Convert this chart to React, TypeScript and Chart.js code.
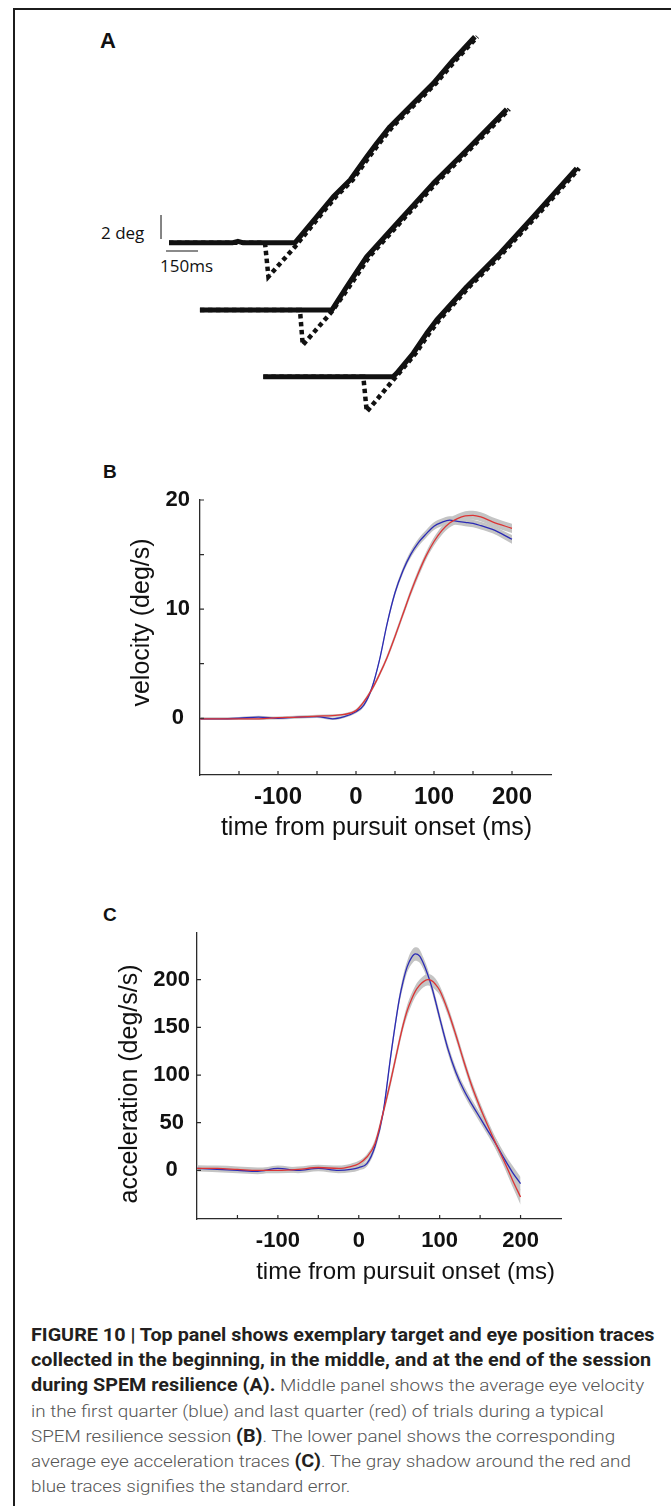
import React, { useEffect, useRef } from 'react';
import { Chart, registerables } from 'chart.js';

Chart.register(...registerables);

// ---------------- Panel A: position traces (time in ms, position in deg) ----------------
const eye1Time = [0, 300, 323, 345, 591, 692, 770, 849, 927, 974, 1036, 1114, 1239, 1333, 1434];
const eye1Pos = [0, 0, 0.12, 0, 0, 2.16, 3.83, 5.23, 7.17, 8.29, 9.67, 11.06, 13.28, 15.23, 17.17];
const target1Time = [0, 450, 466, 591, 704, 782, 861, 939, 986, 1048, 1126, 1251, 1345, 1446];
const target1Pos = [0, 0, -2.83, -0.33, 2.16, 3.83, 5.23, 7.17, 8.29, 9.67, 11.06, 13.28, 15.23, 17.17];

const eye2Time = [145, 763, 833, 880, 927, 1083, 1239, 1396, 1583];
const eye2Pos = [-5.61, -5.61, -3.67, -2.42, -1.16, 1.89, 4.95, 7.73, 11.12];
const target2Time = [145, 614, 627, 763, 845, 892, 939, 1095, 1251, 1408, 1595];
const target2Pos = [-5.61, -5.61, -8.53, -5.75, -3.67, -2.42, -1.16, 1.89, 4.95, 7.73, 11.12];

const eye3Time = [442, 1050, 1067, 1145, 1208, 1255, 1396, 1552, 1708, 1911];
const eye3Pos = [-11.17, -11.17, -10.88, -9.21, -7.55, -6.44, -3.67, -0.88, 2.16, 6.2];
const target3Time = [442, 911, 927, 1067, 1157, 1220, 1267, 1408, 1564, 1720, 1923];
const target3Pos = [-11.17, -11.17, -14.08, -11.11, -9.21, -7.55, -6.44, -3.67, -0.88, 2.16, 6.2];

// scale bars: 2 deg (vertical) and 150 ms (horizontal)
const degBarTime = [-37.5, -37.5];
const degBarPos = [0.31, 2.31];
const msBarTime = [-14, 136];
const msBarPos = [-0.69, -0.69];

// ---------------- Panel B: velocity (deg/s) ----------------
const timeB = [-200, -175, -150, -125, -100, -75, -50, -30, -15, 0, 10, 20, 30, 40, 50, 60, 70, 80, 90, 100, 110, 120, 130, 140, 150, 160, 175, 200];
const velBlue = [-0.05, -0.05, 0, 0.1, 0, 0.1, 0.15, -0.05, 0.15, 0.6, 1.2, 2.7, 5.3, 8.7, 11.5, 13.5, 15.0, 16.1, 16.9, 17.6, 17.95, 18.15, 18.05, 17.95, 17.85, 17.65, 17.3, 16.4];
const velRed = [-0.05, -0.05, -0.05, -0.05, 0.05, 0.1, 0.2, 0.25, 0.35, 0.7, 1.5, 2.6, 4.0, 5.6, 7.5, 9.5, 11.5, 13.3, 14.9, 16.2, 17.2, 17.9, 18.3, 18.55, 18.6, 18.45, 18.0, 17.4];
const velBlueSE = [0.12, 0.12, 0.12, 0.12, 0.12, 0.12, 0.12, 0.12, 0.12, 0.15, 0.18, 0.2, 0.22, 0.25, 0.28, 0.3, 0.32, 0.35, 0.35, 0.35, 0.35, 0.35, 0.35, 0.35, 0.35, 0.35, 0.35, 0.4];
const velRedSE = [0.12, 0.12, 0.12, 0.12, 0.12, 0.12, 0.12, 0.12, 0.12, 0.15, 0.18, 0.2, 0.22, 0.25, 0.28, 0.3, 0.32, 0.35, 0.35, 0.38, 0.4, 0.42, 0.42, 0.42, 0.42, 0.42, 0.42, 0.42];
const velTickValues = [0, 5, 10, 15, 20];
const velTickLabels = [0, 10, 20];

// ---------------- Panel C: acceleration (deg/s/s) ----------------
const timeC = [-200, -175, -150, -125, -100, -75, -50, -25, -10, 0, 10, 20, 30, 40, 50, 55, 60, 65, 70, 75, 80, 85, 90, 95, 100, 110, 120, 130, 140, 150, 160, 170, 180, 190, 200];
const accBlue = [2, 1, 0, -1, 2, 0, 2, 0, 1, 3, 7, 25, 60, 123, 179, 199, 214, 223, 227, 225, 217, 206, 193, 177, 160, 128, 103, 84, 69, 55, 41, 27, 12, -2, -14];
const accRed = [2, 2, 1, 0, 0, 1, 3, 2, 4, 7, 14, 28, 60, 96, 135, 153, 168, 179, 188, 194, 198, 200, 199, 195, 189, 168, 142, 114, 88, 66, 46, 27, 9, -10, -28];
const accBlueSE = [3, 3, 3, 3, 3, 3, 3, 3, 3, 3, 3, 4, 4, 5, 5, 6, 6, 7, 7, 7, 6, 6, 5, 5, 5, 5, 5, 5, 5, 5, 5, 6, 6, 7, 7];
const accRedSE = [3, 3, 3, 3, 3, 3, 3, 3, 3, 3, 3, 4, 4, 5, 5, 5, 6, 6, 6, 6, 6, 6, 6, 6, 5, 5, 5, 5, 5, 5, 5, 6, 6, 7, 8];
const accTickValues = [0, 50, 100, 150, 200];
const accTickLabels = [0, 50, 100, 150, 200];

// shared time axis ticks
const timeTickValues = [-150, -100, -50, 0, 50, 100, 150, 200];
const timeTickLabels = [-100, 0, 100, 200];

const SANS = '"Liberation Sans", Arial, Helvetica, sans-serif';
const AXIS_COLOR = '#2b2b2b';
const BLUE = '#2b2bb5';
const RED = '#dc3434';
const BAND = '#c4c4c4';

const xy = (xs: number[], ys: number[]) => xs.map((x, i) => ({ x, y: ys[i] }));

const inwardTicks = {
  id: 'inwardTicks',
  afterDraw(chart: any, _args: any, o: any) {
    if (!o || !o.xTicks) return;
    const { ctx, chartArea } = chart;
    const xs = chart.scales.x;
    const ys = chart.scales.y;
    ctx.save();
    ctx.strokeStyle = o.color;
    ctx.lineWidth = o.width;
    ctx.beginPath();
    o.xTicks.forEach((v: number) => {
      const px = xs.getPixelForValue(v);
      ctx.moveTo(px, chartArea.bottom);
      ctx.lineTo(px, chartArea.bottom - o.length);
    });
    o.yTicks.forEach((v: number) => {
      const py = ys.getPixelForValue(v);
      ctx.moveTo(chartArea.left, py);
      ctx.lineTo(chartArea.left + o.length, py);
    });
    ctx.stroke();
    ctx.restore();
  },
};

const axisTitles = {
  id: 'axisTitles',
  afterDraw(chart: any, _args: any, o: any) {
    if (!o || !o.xText) return;
    const { ctx, chartArea } = chart;
    ctx.save();
    ctx.fillStyle = o.color;
    ctx.textAlign = 'center';
    ctx.textBaseline = 'middle';
    ctx.font = o.xFont;
    ctx.fillText(o.xText, (chartArea.left + chartArea.right) / 2 + o.xDx, chartArea.bottom + o.xDy);
    ctx.font = o.yFont;
    ctx.translate(chartArea.left + o.yDx, (chartArea.top + chartArea.bottom) / 2 + o.yDy);
    ctx.rotate(-Math.PI / 2);
    ctx.fillText(o.yText, 0, 0);
    ctx.restore();
  },
};

function bandPair(time: number[], mean: number[], se: number[]) {
  return [
    {
      data: time.map((t, i) => ({ x: t, y: mean[i] - se[i] })),
      borderWidth: 0,
      pointRadius: 0,
      fill: false,
      cubicInterpolationMode: 'monotone',
      order: 5,
    },
    {
      data: time.map((t, i) => ({ x: t, y: mean[i] + se[i] })),
      borderWidth: 0,
      pointRadius: 0,
      fill: '-1',
      backgroundColor: BAND,
      cubicInterpolationMode: 'monotone',
      order: 5,
    },
  ];
}

function PanelA() {
  const ref = useRef<HTMLCanvasElement>(null);
  useEffect(() => {
    const eye = { borderColor: '#111', borderWidth: 5, pointRadius: 0, fill: false, borderJoinStyle: 'round', order: 0 };
    const tgt = { borderColor: '#111', borderWidth: 4.5, borderDash: [4.5, 3.5], pointRadius: 0, fill: false, order: 1 };
    const chart = new Chart(ref.current as HTMLCanvasElement, {
      type: 'line',
      data: {
        datasets: [
          { ...eye, data: xy(eye1Time, eye1Pos) },
          { ...eye, data: xy(eye2Time, eye2Pos) },
          { ...eye, data: xy(eye3Time, eye3Pos) },
          { ...tgt, data: xy(target1Time, target1Pos) },
          { ...tgt, data: xy(target2Time, target2Pos) },
          { ...tgt, data: xy(target3Time, target3Pos) },
          { borderColor: '#333', borderWidth: 1.2, pointRadius: 0, fill: false, data: xy(degBarTime, degBarPos), order: 2 },
          { borderColor: '#8a8a8a', borderWidth: 2, pointRadius: 0, fill: false, data: xy(msBarTime, msBarPos), order: 2 },
        ] as any,
      },
      options: {
        animation: false,
        responsive: false,
        maintainAspectRatio: false,
        layout: { padding: 0 },
        plugins: { legend: { display: false }, tooltip: { enabled: false } },
        scales: {
          x: { type: 'linear', display: false, min: -323.5, max: 2020.5 },
          y: { type: 'linear', display: false, min: -16.44, max: 18.56 },
        },
      } as any,
    });
    return () => chart.destroy();
  }, []);
  return (
    <canvas
      ref={ref}
      width={500}
      height={420}
      style={{ position: 'absolute', left: 100, top: 20, width: 500, height: 420 }}
    />
  );
}

type PanelProps = {
  left: number;
  top: number;
  width: number;
  height: number;
  time: number[];
  blue: number[];
  red: number[];
  blueSE: number[];
  redSE: number[];
  yMin: number;
  yMax: number;
  yTicks: number[];
  yLabels: number[];
  yAxisWidth: number;
  xAxisHeight: number;
  padTop: number;
  padRight: number;
  yTickFont: number;
  xTickFont: number;
  yTickPad: number;
  xTickPad: number;
  xTitle: string;
  yTitle: string;
  xTitleFont: number;
  yTitleFont: number;
  xDx: number;
  xDy: number;
  yDx: number;
  yDy: number;
};

function TracePanel(p: PanelProps) {
  const ref = useRef<HTMLCanvasElement>(null);
  useEffect(() => {
    const line = (data: number[], color: string, order: number) => ({
      data: xy(p.time, data),
      borderColor: color,
      borderWidth: 1.3,
      pointRadius: 0,
      fill: false,
      cubicInterpolationMode: 'monotone',
      order,
    });
    const chart = new Chart(ref.current as HTMLCanvasElement, {
      type: 'line',
      data: {
        datasets: [
          ...bandPair(p.time, p.blue, p.blueSE),
          ...bandPair(p.time, p.red, p.redSE),
          line(p.blue, BLUE, 1),
          line(p.red, RED, 0),
        ] as any,
      },
      options: {
        animation: false,
        responsive: false,
        maintainAspectRatio: false,
        layout: { padding: { left: 0, top: p.padTop, right: p.padRight, bottom: 0 } },
        plugins: {
          legend: { display: false },
          tooltip: { enabled: false },
          inwardTicks: { xTicks: timeTickValues, yTicks: p.yTicks, color: AXIS_COLOR, width: 1.2, length: 4 },
          axisTitles: {
            color: '#111',
            xText: p.xTitle,
            yText: p.yTitle,
            xFont: `${p.xTitleFont}px ${SANS}`,
            yFont: `${p.yTitleFont}px ${SANS}`,
            xDx: p.xDx,
            xDy: p.xDy,
            yDx: p.yDx,
            yDy: p.yDy,
          },
        },
        scales: {
          x: {
            type: 'linear',
            min: -200,
            max: 250,
            afterBuildTicks: (s: any) => {
              s.ticks = timeTickValues.map((v) => ({ value: v }));
            },
            afterFit: (s: any) => {
              s.height = p.xAxisHeight;
            },
            grid: { display: false, drawTicks: false },
            border: { display: true, color: AXIS_COLOR, width: 1.3 },
            ticks: {
              autoSkip: false,
              maxRotation: 0,
              padding: p.xTickPad,
              color: '#111',
              font: { family: SANS, size: p.xTickFont, weight: 'bold' },
              callback: (v: number) => (timeTickLabels.includes(v) ? String(v) : ''),
            },
          },
          y: {
            type: 'linear',
            min: p.yMin,
            max: p.yMax,
            afterBuildTicks: (s: any) => {
              s.ticks = p.yTicks.map((v) => ({ value: v }));
            },
            afterFit: (s: any) => {
              s.width = p.yAxisWidth;
            },
            grid: { display: false, drawTicks: false },
            border: { display: true, color: AXIS_COLOR, width: 1.3 },
            ticks: {
              autoSkip: false,
              crossAlign: 'center',
              padding: p.yTickPad,
              color: '#111',
              font: { family: SANS, size: p.yTickFont, weight: 'bold' },
              callback: (v: number) => (p.yLabels.includes(v) ? String(v) : ''),
            },
          },
        },
      } as any,
      plugins: [inwardTicks, axisTitles] as any,
    });
    return () => chart.destroy();
  }, []);
  return (
    <canvas
      ref={ref}
      width={p.width}
      height={p.height}
      style={{ position: 'absolute', left: p.left, top: p.top, width: p.width, height: p.height }}
    />
  );
}

const Bold = ({ children }: { children: React.ReactNode }) => (
  <span style={{ fontWeight: 700, fontSize: 17.5, color: '#231f20' }}>{children}</span>
);

export default function App() {
  const panelLabel = (text: string, left: number, top: number, size: number) => (
    <div
      style={{
        position: 'absolute',
        left,
        top,
        fontFamily: SANS,
        fontWeight: 700,
        fontSize: size,
        lineHeight: `${size}px`,
        color: '#111',
      }}
    >
      {text}
    </div>
  );
  const scaleText = (text: string, left: number, top: number) => (
    <div
      style={{
        position: 'absolute',
        left,
        top,
        fontFamily: '"Open Sans", sans-serif',
        fontSize: 17,
        lineHeight: '17px',
        color: '#111',
        whiteSpace: 'nowrap',
      }}
    >
      {text}
    </div>
  );
  return (
    <div
      style={{
        position: 'absolute',
        left: 0,
        top: 0,
        width: 671,
        height: 1506,
        overflow: 'hidden',
        background: '#fff',
      }}
    >
      <div
        style={{
          position: 'absolute',
          left: 13,
          top: 8,
          width: 720,
          height: 1600,
          borderTop: '2px solid #1c1c1c',
          borderLeft: '2px solid #1c1c1c',
          boxSizing: 'border-box',
        }}
      />
      {panelLabel('A', 100, 30, 22)}
      {panelLabel('B', 103, 462, 19)}
      {panelLabel('C', 103, 905, 19)}
      {scaleText('2 deg', 101, 224)}
      {scaleText('150ms', 160, 257)}
      <PanelA />
      <TracePanel
        left={90}
        top={470}
        width={480}
        height={390}
        time={timeB}
        blue={velBlue}
        red={velRed}
        blueSE={velBlueSE}
        redSE={velRedSE}
        yMin={-5.2}
        yMax={20}
        yTicks={velTickValues}
        yLabels={velTickLabels}
        yAxisWidth={110}
        xAxisHeight={85}
        padTop={30}
        padRight={19}
        yTickFont={22}
        xTickFont={24}
        yTickPad={10}
        xTickPad={8}
        xTitle="time from pursuit onset (ms)"
        yTitle="velocity (deg/s)"
        xTitleFont={25}
        yTitleFont={25}
        xDx={1}
        xDy={53}
        yDx={-58}
        yDy={-15}
      />
      <TracePanel
        left={90}
        top={900}
        width={480}
        height={390}
        time={timeC}
        blue={accBlue}
        red={accRed}
        blueSE={accBlueSE}
        redSE={accRedSE}
        yMin={-51}
        yMax={249}
        yTicks={accTickValues}
        yLabels={accTickLabels}
        yAxisWidth={107}
        xAxisHeight={71}
        padTop={33}
        padRight={9}
        yTickFont={22}
        xTickFont={22}
        yTickPad={7}
        xTickPad={9}
        xTitle="time from pursuit onset (ms)"
        yTitle="acceleration (deg/s/s)"
        xTitleFont={24}
        yTitleFont={25}
        xDx={26.5}
        xDy={53}
        yDx={-67}
        yDy={8}
      />
      <div
        style={{
          position: 'absolute',
          left: 31,
          top: 1323,
          fontFamily: 'Roboto, "Liberation Sans", sans-serif',
          fontSize: 16.7,
          lineHeight: '25.2px',
          fontWeight: 300,
          color: '#555',
          whiteSpace: 'nowrap',
          transform: 'scaleX(1.13)',
          transformOrigin: 'left top',
        }}
      >
        <div>
          <Bold>FIGURE 10 | Top panel shows exemplary target and eye position traces</Bold>
        </div>
        <div>
          <Bold>collected in the beginning, in the middle, and at the end of the session</Bold>
        </div>
        <div>
          <Bold>during SPEM resilience (A).</Bold> Middle panel shows the average eye velocity
        </div>
        <div>in the first quarter (blue) and last quarter (red) of trials during a typical</div>
        <div>
          SPEM resilience session <Bold>(B)</Bold>. The lower panel shows the corresponding
        </div>
        <div>
          average eye acceleration traces <Bold>(C)</Bold>. The gray shadow around the red and
        </div>
        <div>blue traces signifies the standard error.</div>
      </div>
    </div>
  );
}
